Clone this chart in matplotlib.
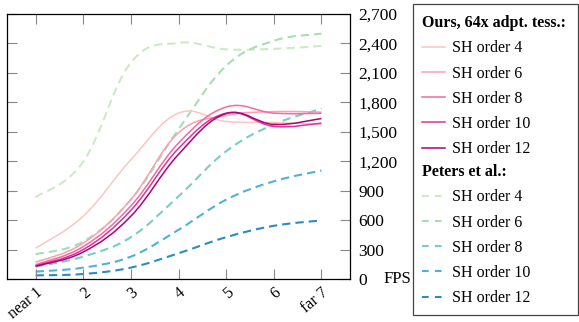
import numpy as np
import matplotlib
matplotlib.use("Agg")
import matplotlib.pyplot as plt
from matplotlib.path import Path
from matplotlib.patches import PathPatch, Rectangle
from matplotlib.lines import Line2D
from matplotlib.ticker import FuncFormatter
from matplotlib.transforms import ScaledTranslation

plt.rcParams['font.family'] = ['Liberation Serif', 'DejaVu Serif']
plt.rcParams['font.size'] = 11.5

positions = [1, 2, 3, 4, 5, 6, 7]
pos_labels = ['near 1', '2', '3', '4', '5', '6', 'far 7']
orders = ['SH order 4', 'SH order 6', 'SH order 8', 'SH order 10', 'SH order 12']

# FPS, ours (64x adaptive tessellation)
ours_sh4 = [314, 640, 1215, 1690, 1605, 1595, 1575]
ours_sh6 = [170, 365, 810, 1490, 1665, 1705, 1700]
ours_sh8 = [145, 330, 745, 1385, 1752, 1690, 1688]
ours_sh10 = [135, 300, 700, 1330, 1690, 1555, 1588]
ours_sh12 = [130, 275, 640, 1270, 1685, 1575, 1635]

# FPS, Peters et al.
peters_sh4 = [832, 1195, 2205, 2405, 2340, 2345, 2375]
peters_sh6 = [252, 382, 808, 1525, 2172, 2427, 2500]
peters_sh8 = [126, 228, 426, 842, 1302, 1575, 1735]
peters_sh10 = [75, 116, 228, 501, 808, 995, 1105]
peters_sh12 = [37, 51, 116, 262, 426, 542, 597]

ours = [ours_sh4, ours_sh6, ours_sh8, ours_sh10, ours_sh12]
peters = [peters_sh4, peters_sh6, peters_sh8, peters_sh10, peters_sh12]
ours_colors = ['#fcc5c0', '#fa9fb5', '#f768a1', '#dd3497', '#ae017e']
peters_colors = ['#ccebc5', '#a8ddb5', '#7bccc4', '#4eb3d3', '#2b8cbe']
dash = (0, (4, 2.4))


def smooth_path(xs, ys, k=0.19):
    # cubic bezier through the points, like pgfplots "smooth"
    pts = np.column_stack([xs, ys]).astype(float)
    verts = [pts[0]]
    codes = [Path.MOVETO]
    n = len(pts)
    for i in range(n - 1):
        p0 = pts[max(i - 1, 0)]
        p1 = pts[i]
        p2 = pts[i + 1]
        p3 = pts[min(i + 2, n - 1)]
        verts += [p1 + k * (p2 - p0), p2 - k * (p3 - p1), p2]
        codes += [Path.CURVE4] * 3
    return Path(verts, codes)


fig = plt.figure(figsize=(5.79, 3.22), dpi=100)
ax = fig.add_axes([7 / 579, 43 / 322, 343 / 579, 265 / 322])

for vals, c in zip(peters, peters_colors):
    ax.add_patch(PathPatch(smooth_path(positions, vals), fill=False,
                           edgecolor=c, lw=1.5, linestyle=dash))
for vals, c in zip(ours, ours_colors):
    ax.add_patch(PathPatch(smooth_path(positions, vals), fill=False,
                           edgecolor=c, lw=1.1))

ax.set_xlim(0.4, 7.6)
ax.set_ylim(0, 2700)
ax.set_xticks(positions)
ax.set_xticklabels(pos_labels, rotation=40, ha='right', va='top',
                   rotation_mode='anchor')
shift = ScaledTranslation(5 / 72, 3 / 72, fig.dpi_scale_trans)
for lab in ax.get_xticklabels():
    lab.set_transform(lab.get_transform() + shift)
ax.set_yticks(np.arange(0, 2701, 300))
ax.yaxis.set_major_formatter(FuncFormatter(lambda v, p: '{:,.0f}'.format(v)))
ax.tick_params(axis='both', direction='in', length=7, color='#888888', width=0.8)
ax.tick_params(axis='x', top=True, bottom=True, pad=4)
ax.tick_params(axis='y', left=True, right=True, labelleft=False,
               labelright=True, pad=6, labelsize=12.5)
for s in ax.spines.values():
    s.set_linewidth(0.9)
ax.annotate('FPS', xy=(1, 0), xycoords='axes fraction', xytext=(24, 0),
            textcoords='offset points', ha='left', va='center', fontsize=12)

# legend
h1 = [Line2D([], [], color=c, lw=1.1) for c in ours_colors]
h2 = [Line2D([], [], color=c, lw=1.5, linestyle=(0, (3.2, 3.0))) for c in peters_colors]
common = dict(frameon=False, loc='upper left', handlelength=1.45,
              handletextpad=0.45, labelspacing=0.58, borderpad=0,
              alignment='left', borderaxespad=0)
leg1 = fig.legend(h1, orders, title='Ours, 64x adpt. tess.:',
                  bbox_to_anchor=(422 / 579, 1 - 15 / 322), **common)
leg2 = fig.legend(h2, orders, title='Peters et al.:',
                  bbox_to_anchor=(422 / 579, 1 - 164 / 322), **common)
for leg in (leg1, leg2):
    leg.get_title().set_fontweight('bold')
    leg.get_title().set_fontsize(11.5)
fig.add_artist(Rectangle((413 / 579, 7 / 322), 165 / 579, 311 / 322,
                         transform=fig.transFigure, fill=False,
                         edgecolor='#444444', lw=0.9))

fig.savefig('out.png', dpi=100)
